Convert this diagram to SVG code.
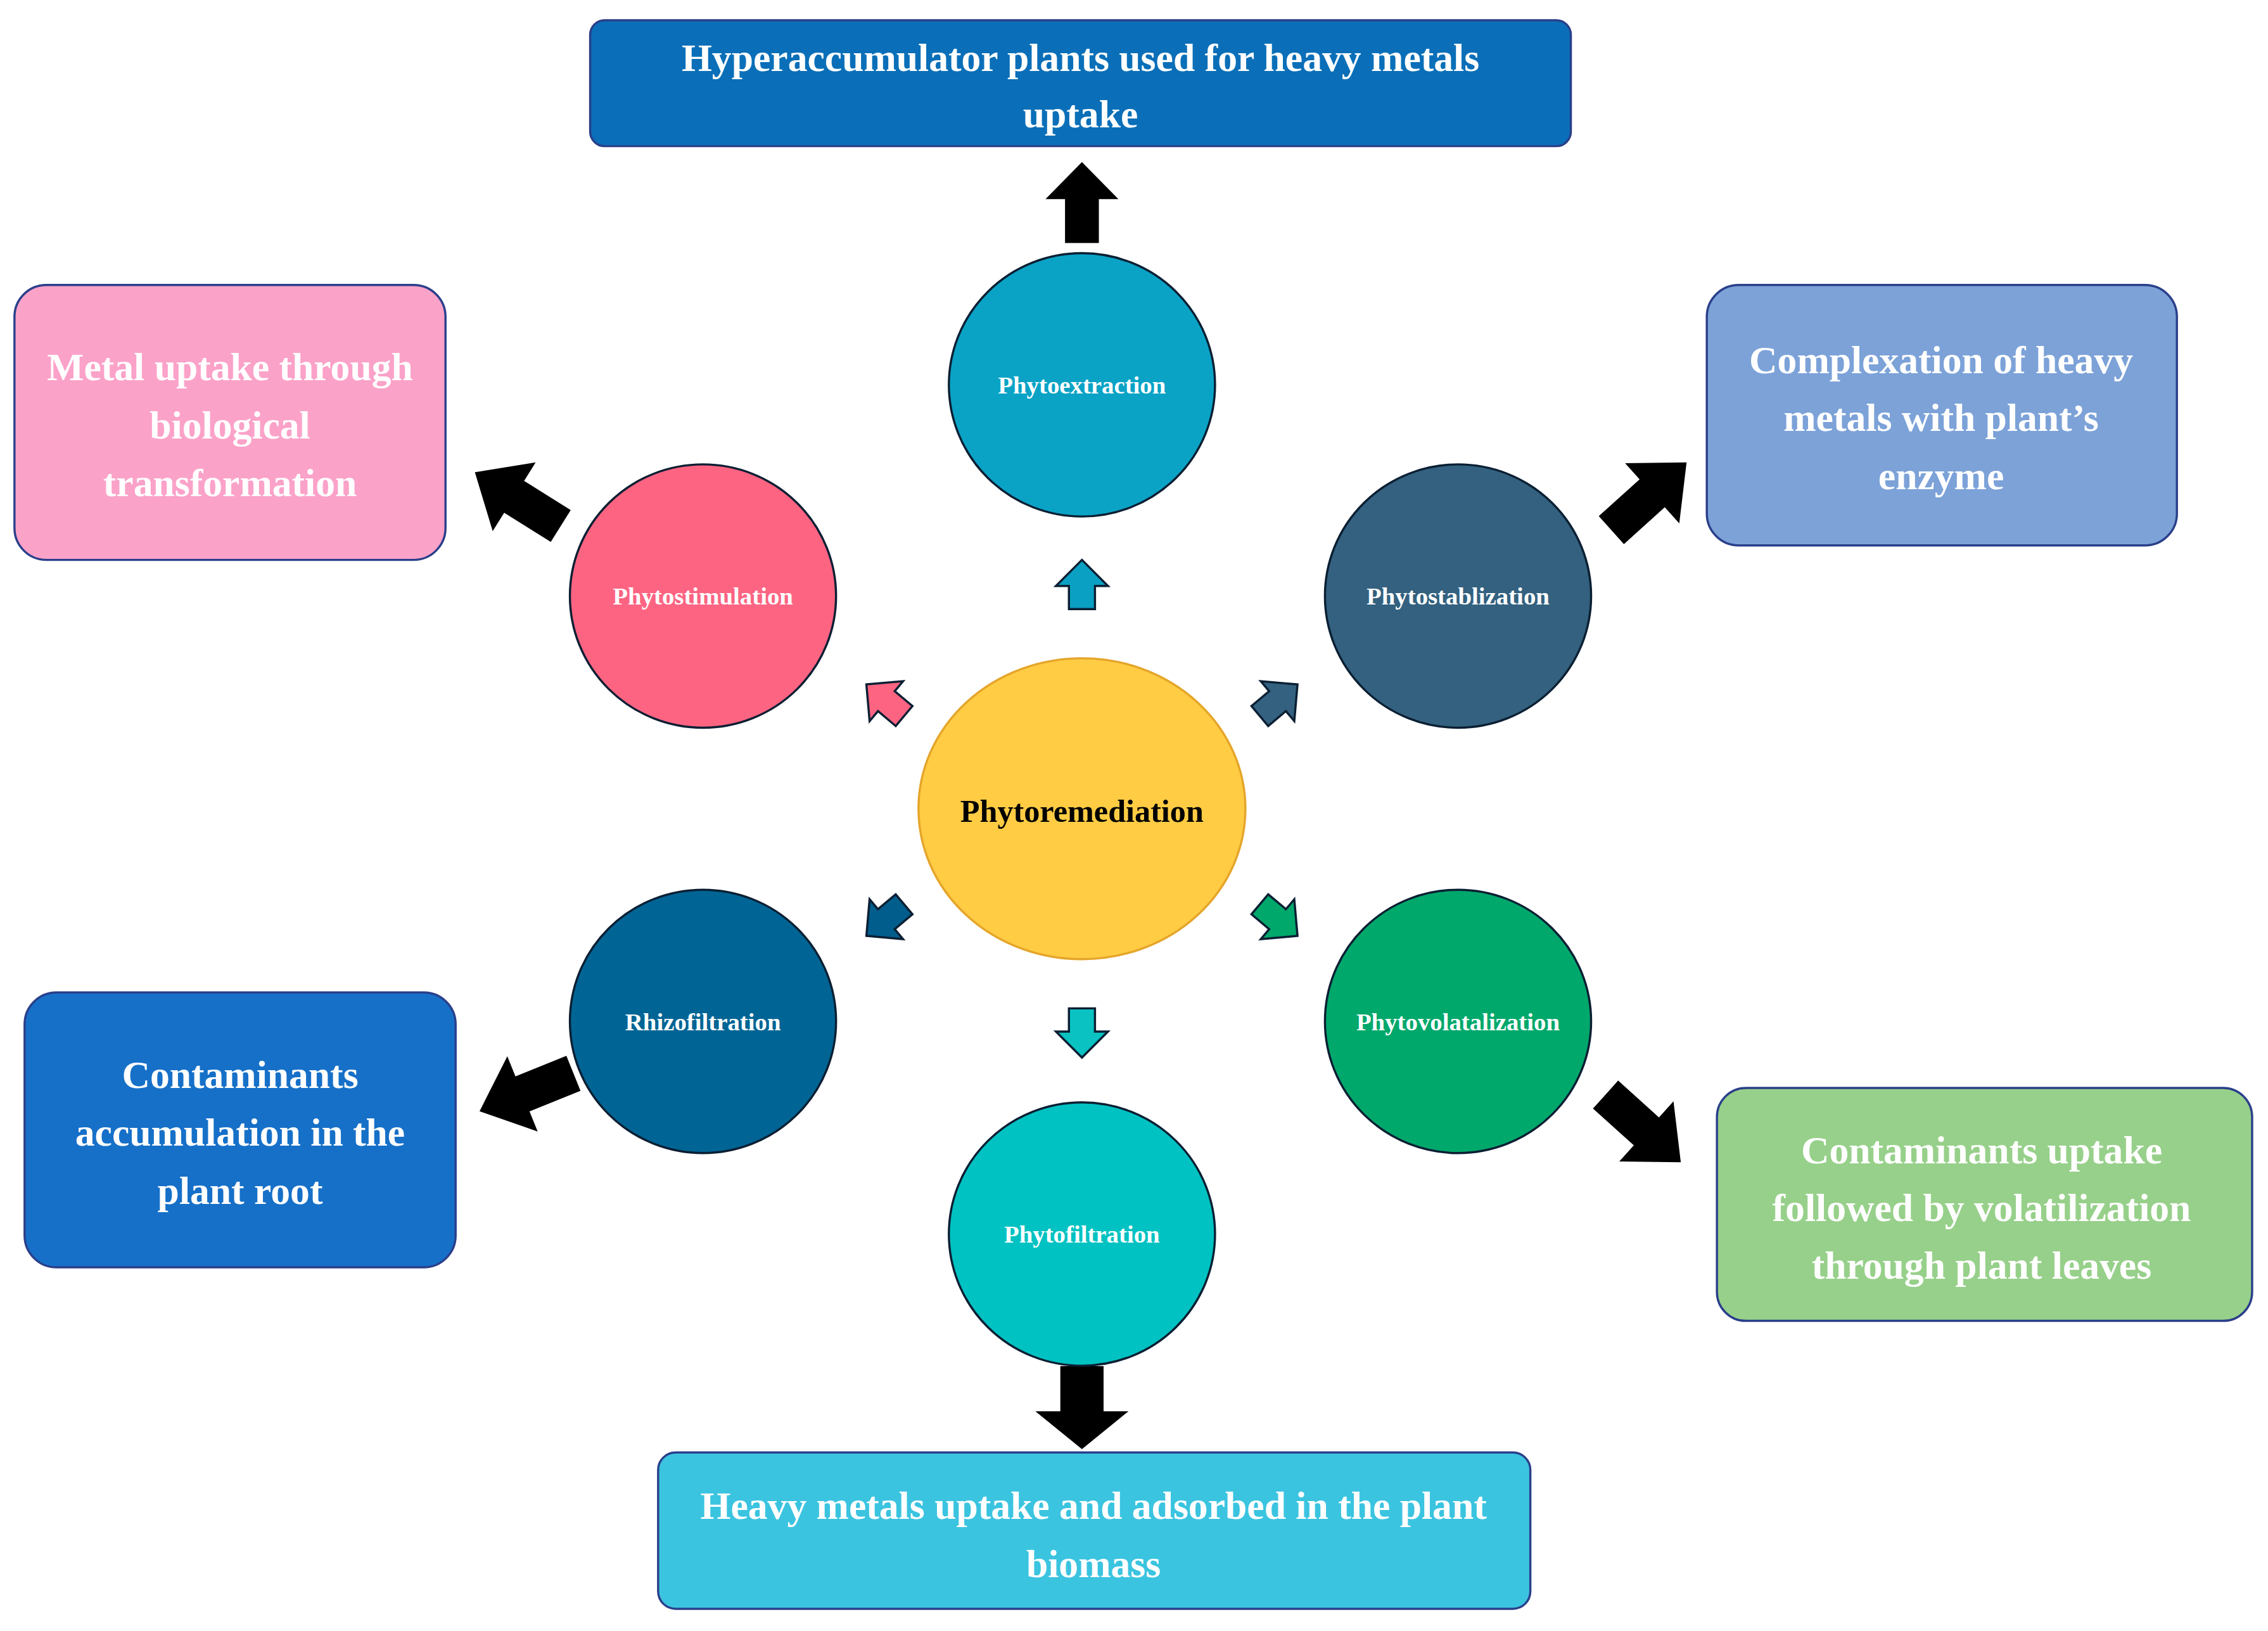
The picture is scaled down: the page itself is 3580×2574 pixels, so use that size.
<svg xmlns="http://www.w3.org/2000/svg" width="3580" height="2574" viewBox="0 0 3580 2574">
<style>
.bx{stroke:#2a3f8a;stroke-width:1.5}
.cir{stroke:#0b1f33;stroke-width:1.5}
.t{font-family:"Liberation Serif",serif;font-weight:bold;fill:#fff;text-anchor:middle}
.bt{font-size:27px}
.ct{font-size:17px}
</style>
<defs>
<path id="big" d="M-35,-13 H3 V-28 L35,0 L3,28 V13 H-35 Z" fill="#000"/>
<path id="sm" d="M-17,-9 H-1 V-18 L17,0 L-1,18 V9 H-17 Z" stroke-width="1.5" stroke="#0b1f33"/>
</defs>
<rect width="3580" height="2574" fill="#fff"/>
<g transform="scale(2.2832)">
<g id="connectors">
<use href="#big" transform="translate(748,140) rotate(-90) scale(0.8,0.9)"/>
<use href="#big" transform="translate(748,973) rotate(90) scale(0.82,1.15)"/>
<use href="#big" transform="translate(358,345) rotate(-148)"/>
<use href="#big" transform="translate(1140,343) rotate(-42)"/>
<use href="#big" transform="translate(364,755) rotate(158)"/>
<use href="#big" transform="translate(1136,780) rotate(42)"/>
<use href="#sm" fill="#0aa0c4" transform="translate(748,404) rotate(-90)"/>
<use href="#sm" fill="#0ac2c2" transform="translate(748,714) rotate(90)"/>
<use href="#sm" fill="#fd6482" transform="translate(612,484) rotate(-140)"/>
<use href="#sm" fill="#33617f" transform="translate(884,484) rotate(-40)"/>
<use href="#sm" fill="#005d8c" transform="translate(612,636) rotate(140)"/>
<use href="#sm" fill="#00a86b" transform="translate(884,636) rotate(40)"/>
</g>
<g id="box-top"><rect class="bx" x="408" y="14" width="678" height="87" rx="10" fill="#0a6fb8"/>
<text class="t bt" x="747" y="49">Hyperaccumulator  plants used for heavy metals</text><text class="t bt" x="747" y="88">uptake</text></g>
<g id="box-pink"><rect class="bx" x="10" y="197" width="298" height="190" rx="22" fill="#fba2c9"/>
<text class="t bt" x="159" y="263">Metal uptake through</text><text class="t bt" x="159" y="303">biological</text><text class="t bt" x="159" y="343">transformation</text></g>
<g id="box-blue"><rect class="bx" x="1180" y="197" width="325" height="180" rx="22" fill="#7ca2d8"/>
<text class="t bt" x="1342" y="258">Complexation  of heavy</text><text class="t bt" x="1342" y="298">metals with plant’s</text><text class="t bt" x="1342" y="338">enzyme</text></g>
<g id="box-root"><rect class="bx" x="17" y="686" width="298" height="190" rx="22" fill="#1670c8"/>
<text class="t bt" x="166" y="752">Contaminants</text><text class="t bt" x="166" y="792">accumulation  in the</text><text class="t bt" x="166" y="832">plant root</text></g>
<g id="box-green"><rect class="bx" x="1187" y="752" width="370" height="161" rx="20" fill="#97d08a"/>
<text class="t bt" x="1370" y="804">Contaminants  uptake</text><text class="t bt" x="1370" y="844">followed by volatilization</text><text class="t bt" x="1370" y="884">through plant leaves</text></g>
<g id="box-bottom"><rect class="bx" x="455" y="1004" width="603" height="108" rx="12" fill="#3bc4e0"/>
<text class="t bt" x="756" y="1050">Heavy metals uptake and adsorbed in the plant</text><text class="t bt" x="756" y="1090">biomass</text></g>
<g id="phytoextraction"><ellipse class="cir" cx="748" cy="266" rx="92" ry="91" fill="#0aa3c6"/><text class="t ct" x="748" y="272">Phytoextraction</text></g>
<g id="phytostimulation"><ellipse class="cir" cx="486" cy="412" rx="92" ry="91" fill="#fd6482"/><text class="t ct" x="486" y="418">Phytostimulation</text></g>
<g id="phytostablization"><ellipse class="cir" cx="1008" cy="412" rx="92" ry="91" fill="#33617f"/><text class="t ct" x="1008" y="418">Phytostablization</text></g>
<g id="rhizofiltration"><ellipse class="cir" cx="486" cy="706" rx="92" ry="91" fill="#006595"/><text class="t ct" x="486" y="712">Rhizofiltration</text></g>
<g id="phytovolatalization"><ellipse class="cir" cx="1008" cy="706" rx="92" ry="91" fill="#00a86b"/><text class="t ct" x="1008" y="712">Phytovolatalization</text></g>
<g id="phytofiltration"><ellipse class="cir" cx="748" cy="853" rx="92" ry="91" fill="#00c2c2"/><text class="t ct" x="748" y="859">Phytofiltration</text></g>
<g id="phytoremediation"><ellipse cx="748" cy="559" rx="113" ry="104" fill="#ffcc44" stroke="#e5a52a" stroke-width="1.5"/><text class="t" x="748" y="568" style="font-size:22px;fill:#000">Phytoremediation</text></g>
</g>
</svg>
